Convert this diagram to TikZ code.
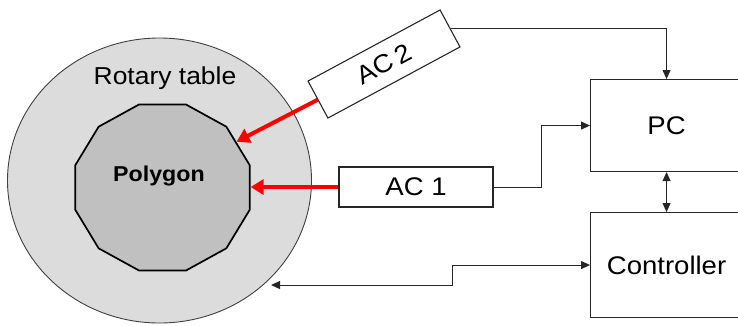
\documentclass[tikz,border=0pt]{standalone}
\usepackage{fontspec}
\setmainfont{Liberation Sans}[FakeStretch=1.08]
\usetikzlibrary{shapes.geometric,arrows.meta}

\definecolor{tablegray}{RGB}{220,220,220}
\definecolor{polygray}{RGB}{192,192,192}

\begin{document}
\begin{tikzpicture}[x=1pt,y=-1pt,
  box/.style={draw=black!85, line width=1.1pt, fill=white, inner sep=0pt},
  wire/.style={draw=black!85, line width=1pt},
  tip/.style={-{Triangle[length=9pt,width=8pt]}},
  tips/.style={{Triangle[length=9pt,width=8pt]}-{Triangle[length=9pt,width=8pt]}},
  laser/.style={draw=red, line width=4pt, -{Triangle[length=13pt,width=15pt]}},
  big/.style={font=\fontsize{25.5}{28}\selectfont}
]
\useasboundingbox (0,0) rectangle (738,325);

% rotary table
\node[ellipse, draw=black!75, line width=0.9pt, fill=tablegray,
      minimum width=304, minimum height=285, inner sep=0pt] (table) at (159.5,180.5) {};
\node[font=\fontsize{24.5}{27}\selectfont] (tablelabel) at (165,78) {Rotary table};

% polygon on the table
\begin{scope}[shift={(162.5,187.5)}, xscale=1.05]
  \node[regular polygon, regular polygon sides=12, minimum size=172, inner sep=0pt,
        draw=black, line width=1.7pt, fill=polygray, transform shape] (poly) at (0,0) {};
\end{scope}
\node[font=\fontsize{21.5}{25}\selectfont\bfseries] (polylabel) at (159,176) {Polygon};

% autocollimators
\node[box, big, rotate=28.3, minimum width=150, minimum height=42] (ac2) at (384,64) {AC\,2};
\node[box, big, minimum width=154, minimum height=40] (ac1) at (416,187) {AC 1};

% computer and controller
\node[box, big, anchor=north west, minimum width=152, minimum height=92] (pc) at (590,79) {PC};
\node[box, big, anchor=north west, minimum width=152, minimum height=105] (ctrl) at (590,212) {Controller};

% laser beams onto the polygon
\draw[laser] (ac2.west) -- (poly.33);
\draw[laser] (ac1.west) -- (ac1.west -| poly.east);

% signal lines
\draw[wire, tip] (ac2.east) -| (pc.north);
\draw[wire, tip] (ac1.east) -- ++(48,0) |- (pc.west);
\draw[wire, tips] (pc.south) -- (ctrl.north);
\coordinate (tabhit) at (271,285);
\draw[wire, tips] (tabhit) -- (452,285) |- (ctrl.west);
\end{tikzpicture}
\end{document}
